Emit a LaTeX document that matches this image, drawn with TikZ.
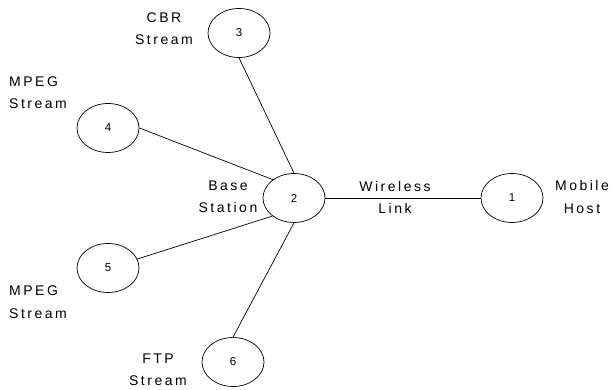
\documentclass[tikz,border=0pt]{standalone}
\usepackage{fontspec}
\setmainfont{Liberation Sans}
\newfontfamily\spacedfont[LetterSpace=18]{Liberation Sans}
\usetikzlibrary{shapes.geometric}
\tikzset{
  hostnode/.style={draw, ellipse, line width=0.7pt, minimum width=62pt,
    minimum height=49pt, inner sep=0pt, font=\fontsize{11.5}{13}\selectfont},
  tag/.style={align=center, inner sep=0pt,
    font=\spacedfont\fontsize{14}{22.5}\selectfont},
  tagleft/.style={tag, align=left, anchor=west},
  link/.style={line width=0.7pt}
}
\begin{document}
\begin{tikzpicture}[x=1pt, y=-1pt]
  \useasboundingbox (0,0) rectangle (614,390);

  % hosts
  \node[hostnode] (n1) at (512,198) {1};
  \node[hostnode] (n2) at (294,198) {2};
  \node[hostnode] (n3) at (239,33)  {3};
  \node[hostnode] (n4) at (108,128) {4};
  \node[hostnode] (n5) at (108,268) {5};
  \node[hostnode] (n6) at (233,362) {6};

  % links
  \draw[link] (n3.south) -- (n2.north);
  \draw[link] (n4.east)  -- (n2.139);
  \draw[link] (n5.17)    -- (n2.220);
  \draw[link] (n2.south) -- (n6.north);
  \draw[link] (n2.east)  -- (n1.west);

  % labels
  \node[tag] (lcbr) at (164,28.5) {CBR\\Stream};
  \node[tagleft] (lmpegA) at (9,92.5) {MPEG\\Stream};
  \node[tag] (lbase) at (228,197) {Base\\Station};
  \node[tag] (lwl) at (395,197.5) {Wireless\\Link};
  \node[tag] (lmob) at (582,197) {Mobile\\Host};
  \node[tagleft] (lmpegB) at (9,302) {MPEG\\Stream};
  \node[tag] (lftp) at (158,370) {FTP\\Stream};
\end{tikzpicture}
\end{document}
